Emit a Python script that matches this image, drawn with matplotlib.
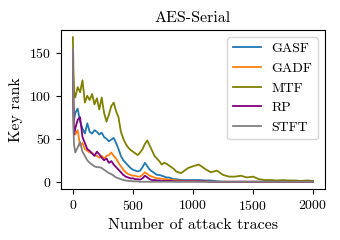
import matplotlib
matplotlib.use("Agg")
import matplotlib.pyplot as plt

plt.rcParams['font.family'] = ['cmr10', 'DejaVu Serif']
plt.rcParams['mathtext.fontset'] = 'cm'
plt.rcParams['axes.formatter.use_mathtext'] = True
plt.rcParams['axes.unicode_minus'] = False

traces = [0, 5, 10] + list(range(20, 1001, 20)) + list(range(1050, 2001, 50))

gasf = [130, 95, 72,
        80, 85, 70, 62, 56, 68, 58, 56, 60, 58,
        55, 57, 52, 50, 47, 49, 51, 45, 38, 30,
        25, 22, 19, 16, 14, 13, 12, 13, 17, 22,
        18, 14, 12, 10, 8, 8, 7, 6, 5, 5,
        4, 3, 3, 2.5, 2, 2, 2, 2, 2, 2,
        2, 1.5, 1.5, 0.5, 0, 0, 0, 0, 0, 0,
        0, 0, 0, 0, 0, 0, 0, 0, 0, 0]
gadf = [140, 80, 58,
        55, 60, 42, 45, 38, 36, 34, 33, 31, 30,
        28, 30, 27, 30, 31, 34, 30, 27, 22, 18,
        14, 11, 9, 8, 7, 7, 6, 6, 8, 11,
        9, 7, 6, 5, 4, 4, 3.5, 3, 3, 2.5,
        2, 2, 1.5, 1.5, 1, 1, 1, 1, 1, 1,
        0.5, 0.5, 0, 0, 0, 0, 0, 0, 0, 0,
        0, 0, 0, 0, 0, 0, 0, 0, 0, 0]
mtf = [168, 130, 105,
       98, 110, 104, 118, 92, 100, 95, 102, 90, 97,
       84, 98, 80, 70, 78, 88, 92, 82, 75, 58,
       50, 44, 40, 37, 35, 33, 31, 34, 38, 44,
       48, 42, 36, 30, 27, 24, 20, 22, 21, 19,
       17, 15, 12, 11, 10, 12, 14, 16, 17, 18,
       20, 15, 11, 13, 8, 6, 6, 7, 5, 6,
       3, 2, 2, 1.5, 2, 1.5, 1.5, 1, 1.5, 1]
rp = [150, 75, 55,
      62, 72, 75, 52, 45, 38, 36, 33, 30, 35,
      32, 28, 25, 27, 22, 24, 20, 17, 14, 11,
      8, 6, 5, 4, 4, 3, 3, 2.5, 4, 7,
      5, 3, 2, 2, 1.5, 1.5, 1, 1, 1, 1,
      1, 0.5, 0.5, 0.5, 0.5, 0.5, 0.5, 0.5, 0.5, 0.5,
      0.5, 0.5, 0, 0, 0, 0, 0, 0, 0, 0,
      0, 0, 0, 0, 0, 0, 0, 0, 0, 0]
stft = [155, 60, 43,
        34, 40, 46, 35, 30, 25, 22, 20, 18, 17,
        17, 16, 14, 12, 10, 9, 7, 5, 4, 3,
        2, 1.5, 1, 1, 0.5, 0.5, 0.5, 0, 0, 0,
        0, 0, 0, 0, 0, 0, 0, 0, 0, 0,
        0, 0, 0, 0, 0, 0, 0, 0, 0, 0,
        0, 0, 0, 0, 0, 0, 0, 0, 0, 0,
        0, 0, 0, 0, 0, 0, 0, 0, 0, 0]

series = [("GASF", gasf, "tab:blue"), ("GADF", gadf, "tab:orange"),
          ("MTF", mtf, "olive"), ("RP", rp, "purple"), ("STFT", stft, "gray")]

fig = plt.figure(figsize=(3.4, 2.4), dpi=100)
ax = fig.add_axes([0.179, 0.2125, 0.777, 0.6625])
for name, vals, col in series:
    ax.plot(traces, vals, color=col, lw=1.3, label=name)
ax.set_title("AES-Serial", fontsize=11.5)
ax.set_xlabel("Number of attack traces", fontsize=11.5)
ax.set_ylabel("Key rank", fontsize=11.5)
ax.tick_params(labelsize=10)
ax.set_xticks([0, 500, 1000, 1500, 2000])
ax.set_yticks([0, 50, 100, 150])
ax.legend(loc="upper right", fontsize=10)
fig.savefig("out.png", dpi=100)
